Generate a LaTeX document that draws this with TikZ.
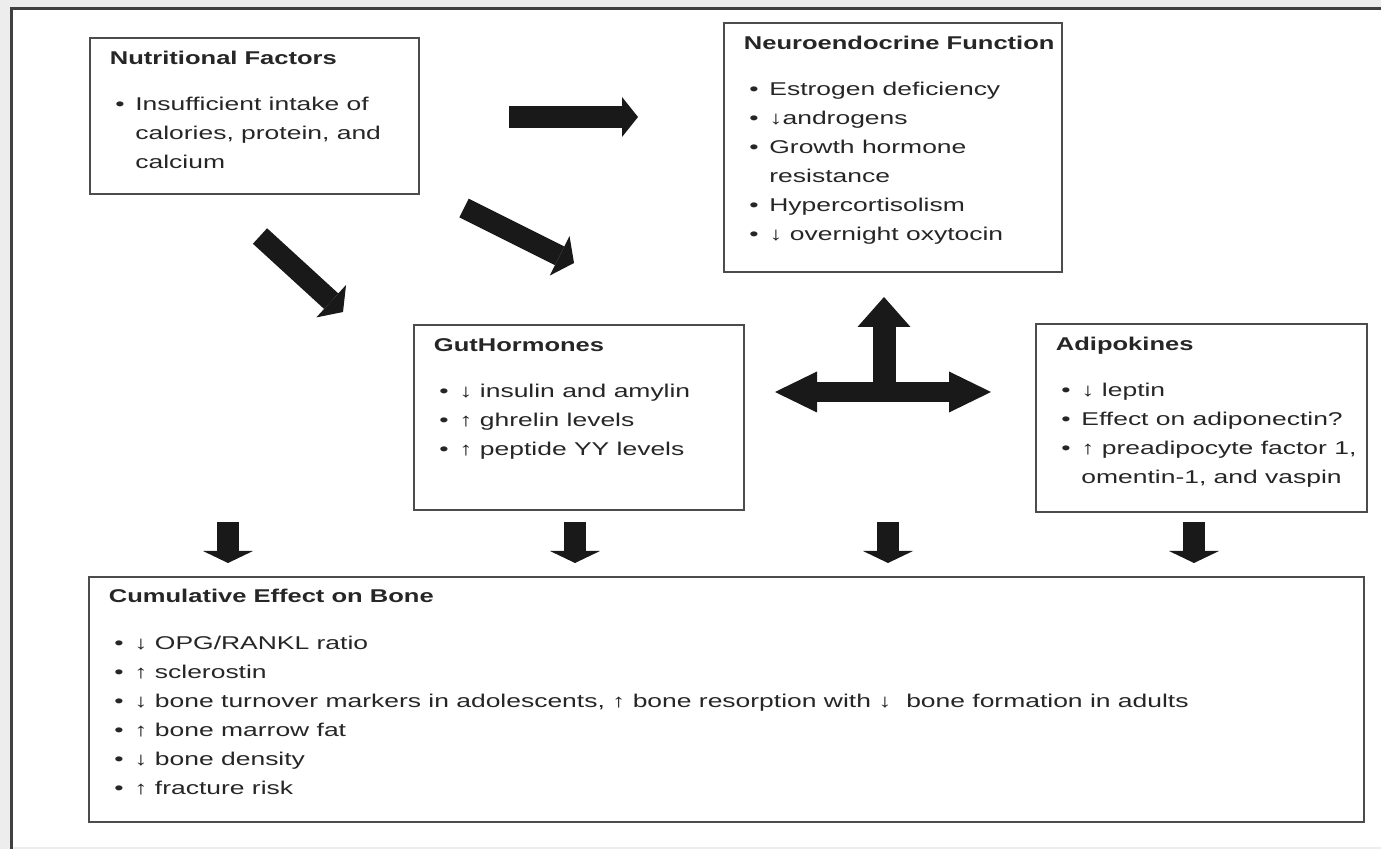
\documentclass[tikz,border=0pt]{standalone}
\usepackage{fontspec}
\setmainfont[FakeStretch=1.43, BoldFeatures={FakeStretch=1.38}]{Liberation Sans}
\usetikzlibrary{arrows.meta}

% list helpers: bullet item and continuation line
\newcommand{\blt}{\hspace*{2.75pt}\makebox[10pt][l]{\textbullet}}
\newcommand{\cnt}{\hspace*{12.75pt}}
\newcommand{\tgap}{8.75pt}

\begin{document}
\begin{tikzpicture}[
    x=0.5pt, y=-0.5pt,
    panel/.style={draw=black!70, line width=0.8pt, anchor=north west,
                  inner sep=0pt, outer sep=0pt},
    txt/.style={anchor=base west, inner sep=0pt, text=black!85,
                font=\fontsize{9.25pt}{14.5pt}\selectfont},
    fwd/.style={line width=11pt, draw=black!90,
                -{Triangle[length=8pt, width=20pt, line width=0pt]}},
    diag/.style={line width=10.5pt, draw=black!90,
                 -{Triangle[length=8pt, width=22pt, line width=0pt]}},
    both/.style={line width=10pt, draw=black!90,
                 {Triangle[length=21pt, width=20.5pt, line width=0pt]}-{Triangle[length=21pt, width=20.5pt, line width=0pt]}},
    upward/.style={line width=11.5pt, draw=black!90,
                   -{Triangle[length=15pt, width=26.5pt, line width=0pt]}},
    down/.style={line width=11pt, draw=black!90,
                 -{Triangle[length=6pt, width=25pt, line width=0pt]}},
  ]
  \useasboundingbox (0,0) rectangle (1381,849);

  % --- page frame ---
  \fill[black!7] (0,0) rectangle (1381,849);
  \fill[white] (11,9) rectangle (1381,847);
  \draw[black!75, line width=1.5pt] (1381,9) -- (11,9) -- (11,849);

  % --- boxes ---
  \node[panel, minimum width=164.5pt, minimum height=78pt] (nutr) at (90,38) {};
  \node[panel, minimum width=169pt, minimum height=124.5pt] (neuro) at (724,23) {};
  \node[panel, minimum width=165pt, minimum height=92.5pt] (gut) at (414,325) {};
  \node[panel, minimum width=165.5pt, minimum height=94pt] (adipo) at (1036,324) {};
  \node[panel, minimum width=637.5pt, minimum height=122.5pt] (bone) at (89,577) {};

  % --- box texts ---
  \node[txt] (nutr-t) at ([shift={(19.5,26.5)}]nutr.north west) {\parbox[t]{160pt}{%
    \textbf{Nutritional Factors}\\[\tgap]
    \blt Insufficient intake of\\
    \cnt calories, protein, and\\
    \cnt calcium}};

  \node[txt] (neuro-t) at ([shift={(19.5,26.5)}]neuro.north west) {\parbox[t]{170pt}{%
    \textbf{Neuroendocrine Function}\\[\tgap]
    \blt Estrogen deficiency\\
    \blt ↓androgens\\
    \blt Growth hormone\\
    \cnt resistance\\
    \blt Hypercortisolism\\
    \blt ↓ overnight oxytocin}};

  \node[txt] (gut-t) at ([shift={(19.5,26.5)}]gut.north west) {\parbox[t]{160pt}{%
    \textbf{GutHormones}\\[\tgap]
    \blt ↓ insulin and amylin\\
    \blt ↑ ghrelin levels\\
    \blt ↑ peptide YY levels}};

  \node[txt] (adipo-t) at ([shift={(19.5,26.5)}]adipo.north west) {\parbox[t]{160pt}{%
    \textbf{Adipokines}\\[\tgap]
    \blt ↓ leptin\\
    \blt Effect on adiponectin?\\
    \blt ↑ preadipocyte factor 1,\\
    \cnt omentin-1, and vaspin}};

  \node[txt] (bone-t) at ([shift={(19.5,26)}]bone.north west) {\parbox[t]{620pt}{%
    \textbf{Cumulative Effect on Bone}\\[\tgap]
    \blt ↓ OPG/RANKL ratio\\
    \blt ↑ sclerostin\\
    \blt ↓ bone turnover markers in adolescents, ↑ bone resorption with ↓~ bone formation in adults\\
    \blt ↑ bone marrow fat\\
    \blt ↓ bone density\\
    \blt ↑ fracture risk}};

  % --- block arrows from nutrition ---
  \coordinate (fw-s) at (509,117);
  \coordinate (fw-e) at (638,117);
  \coordinate (da-s) at (260,236);
  \coordinate (da-e) at (343,312);
  \coordinate (db-s) at (464,208);
  \coordinate (db-e) at (574,263);
  \draw[fwd] (fw-s) -- (fw-e);
  \draw[diag] (da-s) -- (da-e);
  \draw[diag] (db-s) -- (db-e);

  % --- three-way arrow between the middle boxes ---
  \coordinate (hub) at (884,392);
  \coordinate (hub-n) at (884,297);
  \coordinate (hub-w) at (775,392);
  \coordinate (hub-e) at (991,392);
  \draw[upward] (hub) -- (hub-n);
  \draw[both] (hub-w) -- (hub-e);

  % --- arrows into the bone box ---
  \foreach \x [count=\i] in {228,575,888,1194} {
    \coordinate (dn\i-s) at (\x,522);
    \coordinate (dn\i-e) at (\x,563);
    \draw[down] (dn\i-s) -- (dn\i-e);
  }
\end{tikzpicture}
\end{document}
